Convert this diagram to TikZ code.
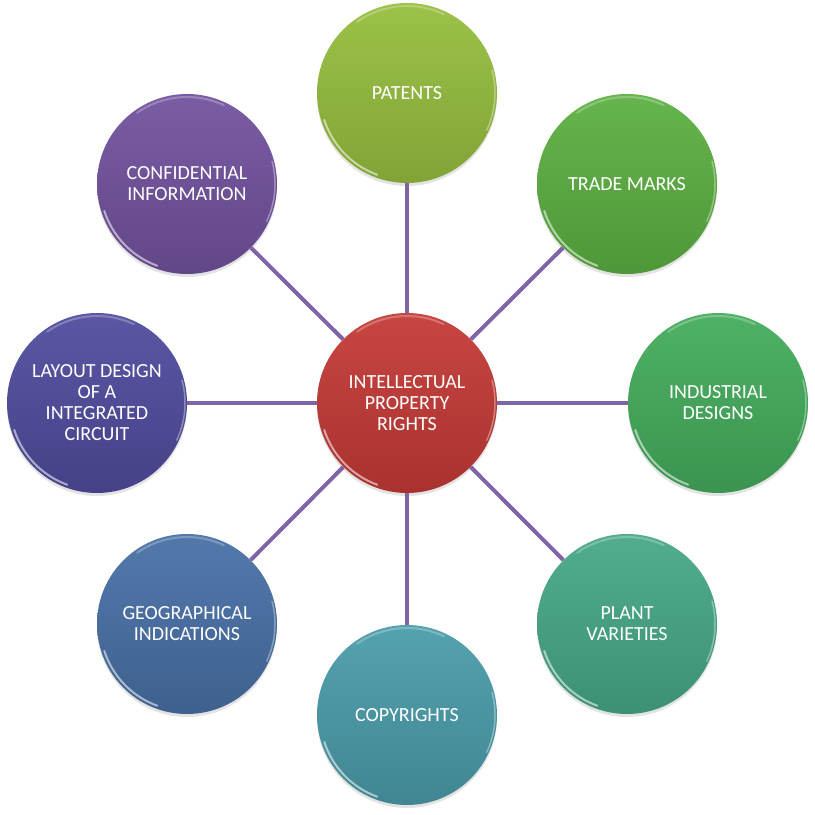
\documentclass[tikz,border=0pt]{standalone}
\usepackage{fontspec}
\setmainfont{Carlito}
\usepackage{tikz}
\usetikzlibrary{calc}
\usetikzlibrary{shadows}
\definecolor{brickred}{RGB}{196, 58, 54}
\definecolor{limegreen}{RGB}{150, 190, 62}
\definecolor{leafgreen}{RGB}{92, 176, 66}
\definecolor{grassgreen}{RGB}{68, 172, 92}
\definecolor{seagreen}{RGB}{70, 168, 134}
\definecolor{tealblue}{RGB}{74, 156, 170}
\definecolor{steelblue}{RGB}{72, 112, 166}
\definecolor{indigo}{RGB}{80, 76, 158}
\definecolor{amethyst}{RGB}{114, 82, 158}
\definecolor{lavender}{RGB}{128, 100, 168}

\begin{document}
\begin{tikzpicture}[x=1pt, y=1pt,
        bubble/.style={circle, minimum size=180pt, inner sep=0pt, align=center,
            text=white, font=\fontsize{20}{21}\selectfont,
            top color=#1!94!white, bottom color=#1!86!black,
            drop shadow={opacity=0.22, shadow xshift=0pt, shadow yshift=-3pt}},
        spoke/.style={lavender, line width=4pt}]
    \useasboundingbox (0,0) rectangle (815,815);
    % centre and the eight rights round it
    \node[bubble=brickred]   (ipr)  at (407,412) {INTELLECTUAL\\PROPERTY\\RIGHTS};
    \node[bubble=limegreen]  (pat)  at (407,722) {PATENTS};
    \node[bubble=leafgreen]  (tm)   at (627,631) {TRADE MARKS};
    \node[bubble=grassgreen] (ind)  at (718,412) {INDUSTRIAL\\DESIGNS};
    \node[bubble=seagreen]   (pv)   at (627,191) {PLANT\\VARIETIES};
    \node[bubble=tealblue]   (copy) at (407,100) {COPYRIGHTS};
    \node[bubble=steelblue]  (geo)  at (187,191) {GEOGRAPHICAL\\INDICATIONS};
    \node[bubble=indigo]     (lay)  at (97,412)  {LAYOUT DESIGN\\OF A\\INTEGRATED\\CIRCUIT};
    \node[bubble=amethyst]   (conf) at (187,631) {CONFIDENTIAL\\INFORMATION};
    % spokes
    \foreach \n in {pat,tm,ind,pv,copy,geo,lay,conf}
        \draw[spoke] (ipr) -- (\n);
    % glossy rims
    \foreach \n in {ipr,pat,tm,ind,pv,copy,geo,lay,conf} {
        \draw[white, opacity=0.55, line width=2pt, line cap=round]
            ($(\n.center)+(198:87)$) arc (198:250:87);
        \draw[white, opacity=0.25, line width=2pt, line cap=round]
            ($(\n.center)+(65:87)$) arc (65:125:87);
        \draw[white, opacity=0.35, line width=1.5pt, line cap=round]
            ($(\n.center)+(-25:88)$) arc (-25:15:88);
    }
\end{tikzpicture}
\end{document}
